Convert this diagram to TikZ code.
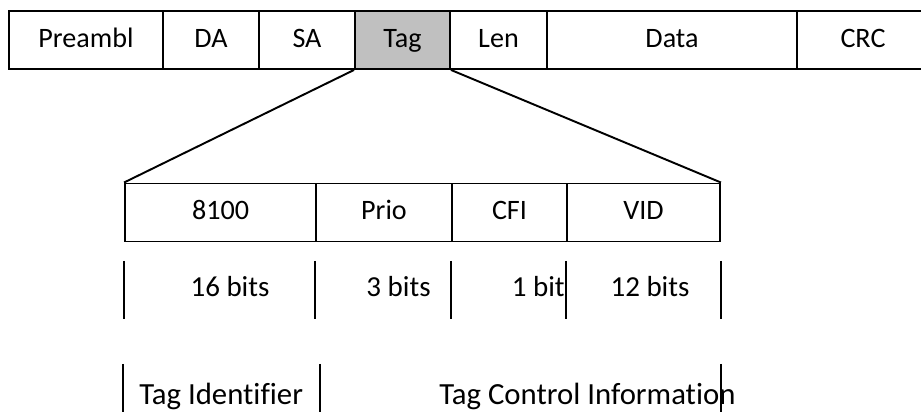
\documentclass[tikz,border=0pt]{standalone}
\usepackage{fontspec}
\setmainfont{Carlito}[Ligatures=NoCommon]
\usetikzlibrary{positioning}
\definecolor{cinzatag}{HTML}{C0C0C0}

\begin{document}
\begin{tikzpicture}[
  cell/.style={draw,line width=1.1pt,minimum height=1.16cm,inner sep=0pt,
    text height=11.5pt,text depth=3.5pt,font=\fontsize{16}{19}\selectfont},
  bits/.style={font=\fontsize{16.5}{19}\selectfont,inner sep=0pt},
  bar/.style={line width=1.1pt}
]
  \useasboundingbox (0,0) rectangle (18.42,8.24);

  % quadro Ethernet
  \node[cell,minimum width=3.08cm] (pre) at (1.72,7.44) {Preambl};
  \node[cell,minimum width=1.92cm] (da) at (4.22,7.44) {DA};
  \node[cell,minimum width=1.92cm] (sa) at (6.14,7.44) {SA};
  \node[cell,minimum width=1.90cm,fill=cinzatag] (tag) at (8.05,7.44) {Tag};
  \node[cell,minimum width=1.94cm] (len) at (9.97,7.44) {Len};
  \node[cell,minimum width=5.00cm] (data) at (13.44,7.44) {Data};
  \node[cell,minimum width=2.64cm] (crc) at (17.26,7.44) {CRC};

  % campo Tag expandido
  \node[cell,minimum width=3.82cm] (tpid) at (4.41,3.99) {8100};
  \node[cell,minimum width=2.72cm] (prio) at (7.68,3.99) {Prio};
  \node[cell,minimum width=2.30cm] (cfi) at (10.19,3.99) {CFI};
  \node[cell,minimum width=3.06cm] (vid) at (12.87,3.99) {VID};
  \draw[line width=1.1pt] (tag.south west) -- (tpid.north west);
  \draw[line width=1.1pt] (tag.south east) -- (vid.north east);

  % tamanhos em bits
  \foreach \c/\a in {tpid/west,prio/west,cfi/west,vid/west,vid/east}
    \draw[bar] (\c.\a |- 0,3.02) -- ++(0,-1.16);
  \node[bits,anchor=base] (b16) at (4.6,2.30) {16 bits};
  \node[bits,anchor=base east] (b3) at (8.62,2.30) {3 bits};
  \node[bits,anchor=base east] (b1) at (11.30,2.30) {1 bit};
  \node[bits,anchor=base] (b12) at (13.0,2.30) {12 bits};

  % TPID e TCI
  \draw[bar] (2.46,0.96) -- ++(0,-1.1);
  \draw[bar] (6.40,0.96) -- ++(0,-1.1);
  \draw[bar] (vid.east |- 0,0.96) -- ++(0,-1.1);
  \node[bits,anchor=base west,font=\fontsize{17.5}{20}\selectfont] (tid) at (2.78,0.14) {Tag Identifier};
  \node[bits,anchor=base west,font=\fontsize{17.5}{20}\selectfont] (tci) at (8.78,0.14) {Tag Control Information};
\end{tikzpicture}
\end{document}
